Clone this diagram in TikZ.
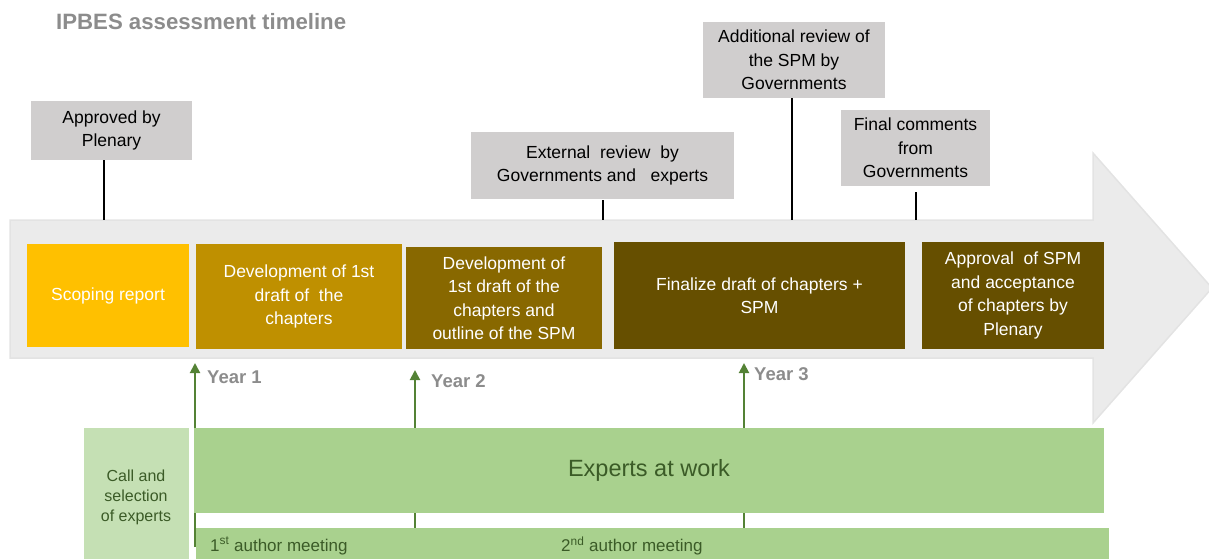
\documentclass[tikz,border=0pt]{standalone}
\usepackage{fontspec}
\setmainfont{Liberation Sans}
\usetikzlibrary{arrows.meta}
\definecolor{arrowgray}{HTML}{EBEBEB}
\definecolor{arrowedge}{HTML}{E3E3E3}
\definecolor{callgray}{HTML}{D0CECE}
\definecolor{titlegray}{HTML}{8C8C8C}
\definecolor{gold1}{HTML}{FFC000}
\definecolor{gold2}{HTML}{BF9000}
\definecolor{gold3}{HTML}{886800}
\definecolor{gold4}{HTML}{664F00}
\definecolor{greenA}{HTML}{A9D18E}
\definecolor{greenB}{HTML}{C5E0B4}
\definecolor{greenline}{HTML}{548235}
\definecolor{greentext}{HTML}{3B5B27}
\newcommand\bodyfs{\fontsize{17.5}{23.5}\selectfont}
\newcommand\smallfs{\fontsize{16}{20}\selectfont}
\begin{document}
\begin{tikzpicture}[x=1pt,y=-1pt,
  callout/.style={fill=callgray, inner sep=0, align=center, text=black, font=\bodyfs},
  phase/.style={inner sep=0, align=center, text=white, font=\bodyfs},
  conn/.style={draw=black, line width=2pt},
  yeararrow/.style={draw=greenline, line width=2pt, -{Triangle[width=10pt,length=10pt]}},
  yearlabel/.style={anchor=west, inner sep=0, text=titlegray, font=\fontsize{18.5}{20}\selectfont\bfseries},
  greenbox/.style={fill=greenA, inner sep=0, text=greentext}]
\useasboundingbox (0,0) rectangle (1209,558);
% title
\node[anchor=west, inner sep=0, text=titlegray, font=\fontsize{22.2}{24}\selectfont\bfseries] (title) at (56,22) {IPBES assessment timeline};
% big arrow
\fill[arrowgray, draw=arrowedge, line width=1.5pt] (10,220) -- (1093,220) -- (1093,153) -- (1212,288) -- (1093,423) -- (1093,358) -- (10,358) -- cycle;
% connector end points on arrow top
\coordinate (t1) at (104,220);
\coordinate (t2) at (603,220);
\coordinate (t3) at (792,220);
\coordinate (t4) at (916,220);
% callouts
\node[callout, minimum width=161pt, minimum height=59pt] (plen) at (111.5,130.5) {Approved by\\Plenary};
\node[callout, minimum width=263pt, minimum height=67pt] (ext) at (602.5,165.5) {External~ review~ by\\Governments and~~ experts};
\node[callout, minimum width=182pt, minimum height=76pt] (add) at (794,60) {Additional review of\\the SPM by\\Governments};
\node[callout, minimum width=149pt, minimum height=76pt] (fin) at (915.5,148) {Final comments\\from\\Governments};
\draw[conn] (plen.south -| t1) -- (t1);
\draw[conn] ([yshift=-1pt]ext.south -| t2) -- (t2);
\draw[conn] (add.south -| t3) -- (t3);
\draw[conn] ([yshift=-6pt]fin.south -| t4) -- (t4);
% phases
\node[phase, fill=gold1, minimum width=162pt, minimum height=103pt] (scope) at (108,295.5) {Scoping report};
\node[phase, fill=gold2, minimum width=206pt, minimum height=105pt] (dev1) at (299,296.5) {Development of 1st\\draft of~ the\\chapters};
\node[phase, fill=gold3, minimum width=196pt, minimum height=102pt] (dev2) at (504,298) {Development of\\1st draft of the\\chapters and\\outline of the SPM};
\node[phase, fill=gold4, minimum width=291pt, minimum height=107pt] (final) at (759.5,295.5) {Finalize draft of chapters +\\SPM};
\node[phase, fill=gold4, minimum width=182pt, minimum height=107pt] (appr) at (1013,295.5) {Approval~ of SPM\\and acceptance\\of chapters by\\Plenary};
% year arrows
\coordinate (y1b) at (195,547);
\coordinate (y1t) at (195,363);
\coordinate (y2b) at (415,528);
\coordinate (y2t) at (415,370);
\coordinate (y3b) at (744,528);
\coordinate (y3t) at (744,363);
\draw[yeararrow] (y1b) -- (y1t);
\draw[yeararrow] (y2b) -- (y2t);
\draw[yeararrow] (y3b) -- (y3t);
\node[yearlabel] (yr1) at (207,377) {Year 1};
\node[yearlabel] (yr2) at (431,381) {Year 2};
\node[yearlabel] (yr3) at (754,374) {Year 3};
% green boxes
\node[fill=greenB, inner sep=0, minimum width=105pt, minimum height=132pt, align=center, text=greentext, font=\smallfs] (call) at (136.5,494) {};
\node[inner sep=0, align=center, text=greentext, font=\smallfs] (calltxt) at (136,497) {Call and\\selection\\of experts};
\node[greenbox, minimum width=910pt, minimum height=85pt, font=\fontsize{23.5}{26}\selectfont] (work) at (649,470.5) {Experts at work};
\node[greenbox, minimum width=913pt, minimum height=32pt] (meet) at (652.5,544) {};
\node[anchor=west, inner sep=0, text=greentext, font=\fontsize{17}{20}\selectfont] (m1) at (210,546) {1\textsuperscript{st} author meeting};
\node[anchor=west, inner sep=0, text=greentext, font=\fontsize{17}{20}\selectfont] (m2) at (561,546) {2\textsuperscript{nd} author meeting};
\end{tikzpicture}
\end{document}
